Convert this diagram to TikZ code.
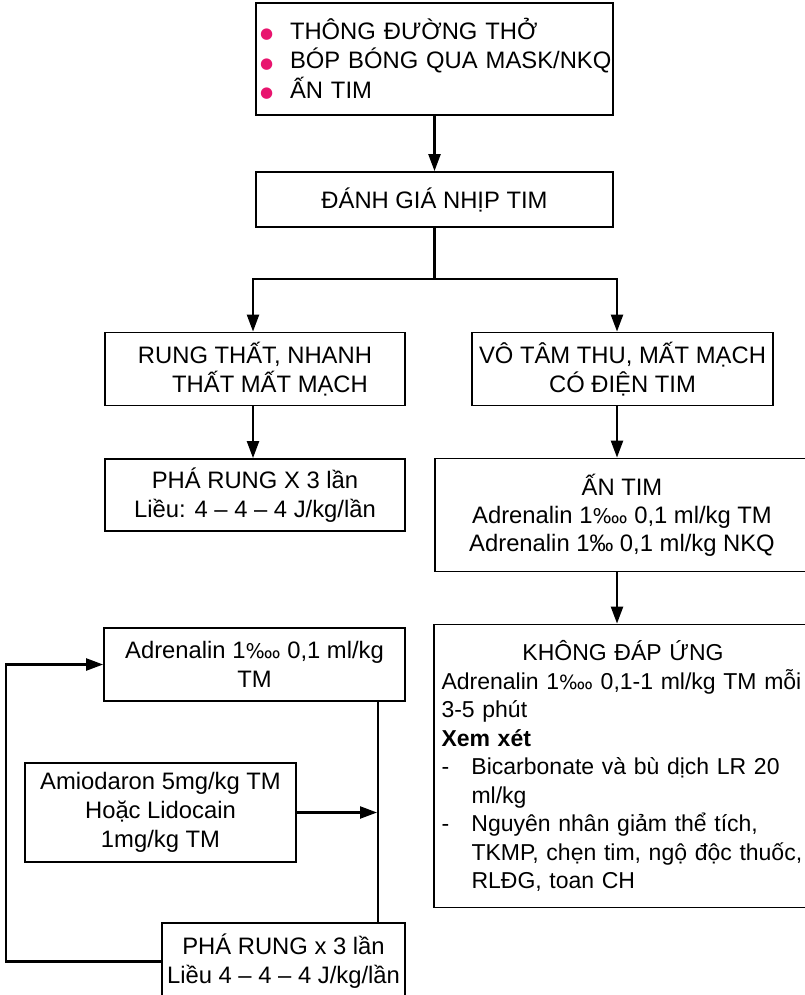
\documentclass[tikz,border=0pt]{standalone}
\usepackage{fontspec}
\setmainfont{Liberation Sans}
\newfontfamily\symfont[Scale=0.85]{DejaVu Sans}
\newfontfamily\dotfont{DejaVu Sans}
\usetikzlibrary{arrows.meta}
\definecolor{bulletpink}{RGB}{232,20,110}
\newcommand{\pmyr}{{\symfont\char"2031}}
\newcommand{\bul}{\makebox[30pt][l]{\textcolor{bulletpink}{\dotfont\fontsize{15}{15}\selectfont\raisebox{0.5pt}{●}}}}

\begin{document}
\begin{tikzpicture}[x=1pt, y=-1pt,
        box/.style={draw, line width=1.8pt, inner sep=0pt, align=center, font=\fontsize{23.8}{29}\selectfont},
        link/.style={line width=2.3pt},
        arrow/.style={link, -{Triangle[length=17pt,width=12pt]}}]
    \path[use as bounding box, clip] (0,0) rectangle (805,995);
    % left column and top
    \node[box, minimum width=357pt, minimum height=112pt, text width=349pt, align=left, font=\fontsize{23.8}{29.5}\selectfont] (airway) at (434.5,59) {\mbox{\bul THÔNG ĐƯỜNG THỞ}\\ \mbox{\bul BÓP BÓNG QUA MASK/NKQ}\\ \mbox{\bul ẤN TIM}};
    \node[box, minimum width=357pt, minimum height=55pt] (rhythm) at (434.5,199.5) {ĐÁNH GIÁ NHỊP TIM};
    \node[box, minimum width=300pt, minimum height=73pt] (vf) at (255,369) {RUNG THẤT, NHANH\\ \hspace*{30pt}THẤT MẤT MẠCH};
    \node[box, minimum width=300pt, minimum height=72pt] (shock) at (255,495) {PHÁ RUNG X 3 lần\\ Liều: 4 – 4 – 4 J/kg/lần};
    % right column
    \node[box, minimum width=301pt, minimum height=73pt] (asys) at (622.5,369) {VÔ TÂM THU, MẤT MẠCH\\ CÓ ĐIỆN TIM};
    \node[box, minimum width=374pt, minimum height=113pt, font=\fontsize{23.8}{28}\selectfont] (cpr) at (622,515) {ẤN TIM\\ Adrenalin 1\pmyr{} 0,1 ml/kg TM\\ Adrenalin 1‰ 0,1 ml/kg NKQ};
    \node[box, minimum width=378pt, minimum height=283pt, text width=363pt, align=left, font=\fontsize{23}{28.5}\selectfont] (noresp) at (623,766) {\makebox[363pt]{KHÔNG ĐÁP ỨNG}\\
        \makebox[357pt][s]{Adrenalin 1\pmyr{} 0,1-1 ml/kg TM mỗi}\\
        3-5 phút\\
        \textbf{Xem xét}\\
        \makebox[30pt][l]{-}\makebox[327pt][s]{Bicarbonate và bù dịch LR 20}\\
        \hspace*{30pt}ml/kg\\
        \makebox[30pt][l]{-}\makebox[327pt][s]{Nguyên nhân giảm thể tích,}\\
        \mbox{\hspace*{30pt}TKMP, chẹn tim, ngộ độc thuốc,}\\
        \hspace*{30pt}RLĐG, toan CH};
    % loop at the bottom left
    \node[box, minimum width=301pt, minimum height=73pt] (adr) at (254.5,664.5) {Adrenalin 1\pmyr{} 0,1 ml/kg\\ TM};
    \node[box, minimum width=271pt, minimum height=99pt] (amio) at (160.5,812.5) {Amiodaron 5mg/kg TM\\ Hoặc Lidocain\\ 1mg/kg TM};
    \node[box, minimum width=243pt, minimum height=77pt] (shock2) at (283.5,961.5) {PHÁ RUNG x 3 lần\\ Liều 4 – 4 – 4 J/kg/lần};
    \coordinate (lbr) at (253,279);
    \coordinate (rbr) at (617,279);
    \coordinate (drop) at (378,701);
    % connectors
    \draw[arrow] (airway) -- (rhythm);
    \draw[link] (rhythm.south) -- (rhythm.south |- lbr);
    \draw[arrow] (rhythm.south |- lbr) -- (lbr) -- (lbr |- vf.north);
    \draw[arrow] (rhythm.south |- lbr) -- (rbr) -- (rbr |- asys.north);
    \draw[arrow] (lbr |- vf.south) -- (lbr |- shock.north);
    \draw[arrow] (rbr |- asys.south) -- (rbr |- cpr.north);
    \draw[arrow] (rbr |- cpr.south) -- (rbr |- noresp.north);
    \draw[link] (drop |- adr.south) -- (drop |- shock2.north);
    \draw[arrow, shorten >=1pt] (amio.east) -- (amio.east -| drop);
    \draw[arrow] (shock2.west) -- ++(-155,0) |- (adr.west);
\end{tikzpicture}
\end{document}
